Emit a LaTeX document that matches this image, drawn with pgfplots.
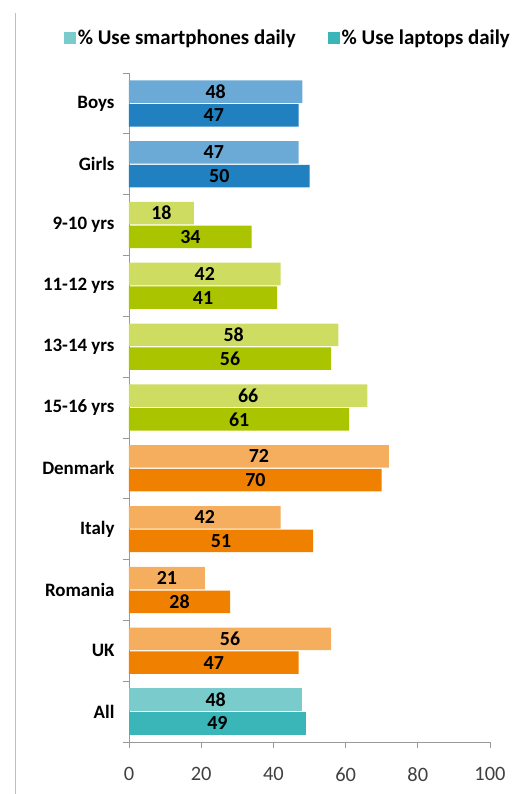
\documentclass[border=0pt]{standalone}
\usepackage{pgfplots}
\pgfplotsset{compat=1.18}
\usepackage{fontspec}
\setmainfont{Carlito}

\definecolor{blueL}{HTML}{6BAAD6}
\definecolor{blueD}{HTML}{2080C0}
\definecolor{greenL}{HTML}{CEDD62}
\definecolor{greenD}{HTML}{AAC400}
\definecolor{orangeL}{HTML}{F5AD5E}
\definecolor{orangeD}{HTML}{F08000}
\definecolor{tealL}{HTML}{7ACCCC}
\definecolor{tealD}{HTML}{3AB5B8}

\pgfplotsset{
  light/.style={fill=#1, draw=none, bar shift=0.195},
  dark/.style={fill=#1, draw=none, bar shift=-0.195},
}

\begin{document}
\begin{tikzpicture}
\useasboundingbox (-129bp,-52bp) rectangle (398bp,742bp);
\draw[gray!50, line width=0.8bp] (-114bp,-52bp) -- (-114bp,729bp);
\begin{axis}[
  at={(0,0)}, anchor=south west,
  scale only axis, width=361bp, height=669bp,
  xbar, bar width=0.37,
  xmin=0, xmax=100, ymin=-0.5, ymax=10.5,
  axis x line*=bottom, axis y line*=left,
  axis line style={gray!80, line width=0.8bp},
  xtick={0,20,...,100},
  tick align=outside, major tick length=6bp,
  xtick style={gray!80, line width=0.8bp},
  ytick={0,...,10},
  yticklabels={All,UK,Romania,Italy,Denmark,15-16 yrs,13-14 yrs,11-12 yrs,9-10 yrs,Girls,Boys},
  ytick style={draw=none},
  extra y ticks={-0.5,0.5,...,10.5},
  extra y tick labels={},
  extra y tick style={ytick style={draw=gray!80, line width=0.8bp}},
  x tick label style={font=\fontsize{20.5}{22}\selectfont, text=black!75, yshift=-16bp},
  y tick label style={font=\bfseries\fontsize{19}{21}\selectfont, xshift=-5bp},
  /pgf/number format/assume math mode=true,
  nodes near coords,
  visualization depends on={rawx \as \rawx},
  every node near coord/.append style={font=\bfseries\fontsize{20}{22}\selectfont, text=black,
    anchor=center, inner sep=0pt, shift={(axis direction cs:-\rawx/2,0)}},
  legend style={at={(0.44,1.052)}, anchor=center, draw=none, fill=none,
    font=\bfseries\fontsize{21}{23}\selectfont, legend columns=2,
    /tikz/every even column/.append style={column sep=30bp},
    /tikz/every odd column/.append style={column sep=0bp}},
  legend image code/.code={\fill[#1] (0bp,-6bp) rectangle (12bp,6bp);},
]
% Boys / Girls
\addplot[light=blueL, forget plot] coordinates {(48,10) (47,9)};
\addplot[dark=blueD, forget plot] coordinates {(47,10) (50,9)};
% age groups
\addplot[light=greenL, forget plot] coordinates {(18,8) (42,7) (58,6) (66,5)};
\addplot[dark=greenD, forget plot] coordinates {(34,8) (41,7) (56,6) (61,5)};
% countries
\addplot[light=orangeL, forget plot] coordinates {(72,4) (42,3) (21,2) (56,1)};
\addplot[dark=orangeD, forget plot] coordinates {(70,4) (51,3) (28,2) (47,1)};
% all
\addplot[light=tealL] coordinates {(48,0)};
\addplot[dark=tealD] coordinates {(49,0)};
\legend{\% Use smartphones daily, \% Use laptops daily}
\end{axis}
\end{tikzpicture}
\end{document}
